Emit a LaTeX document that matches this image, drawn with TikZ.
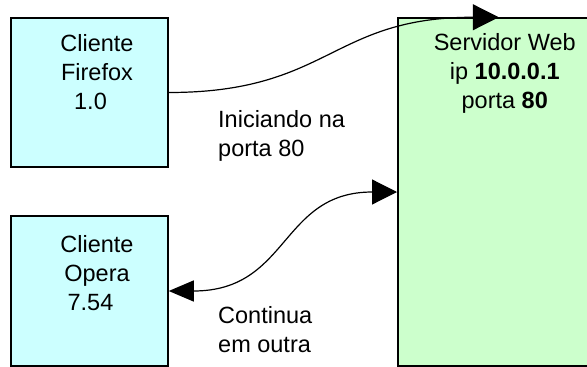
\documentclass[tikz,border=0pt]{standalone}
\usepackage{fontspec}
\setmainfont{Liberation Sans}
\usetikzlibrary{arrows.meta,positioning}
\definecolor{cyanpale}{HTML}{CCFFFF}
\definecolor{greenpale}{HTML}{CCFFCC}
\tikzset{cliente/.style={draw=black,fill=cyanpale,line width=1.5pt,
  minimum width=157pt,minimum height=149pt,inner sep=0pt},
  servidor/.style={draw=black,fill=greenpale,line width=1.5pt,
  minimum width=214pt,minimum height=348pt,inner sep=0pt},
  texto/.style={inner sep=0pt,align=center,font=\fontsize{23.5}{29}\selectfont},
  rotulo/.style={inner sep=0pt,align=left,font=\fontsize{23.5}{29}\selectfont},
  conexao/.style={line width=1.2pt,-{Triangle[length=26pt,width=26pt]}},
  retorno/.style={line width=1.2pt,{Triangle[length=25pt,width=21pt]}-{Triangle[length=25pt,width=25pt]}}}

\begin{document}
\begin{tikzpicture}[x=1pt,y=-1pt]
\useasboundingbox (0,0) rectangle (587,367);
\clip (0,0) rectangle (587,367);
\node[cliente] (firefox) at (89.5,92.5) {};
\node[cliente,minimum height=150pt,below=47.5pt of firefox] (opera) {};
\node[servidor,anchor=north west] (servidor) at (397,17.25) {};
\node[texto,below=16.75pt of firefox.north,xshift=7.5pt] (txtfirefox) {Cliente\\Firefox\\1.0\hspace*{13pt}};
\node[texto,below=19.75pt of opera.north,xshift=7.5pt] (txtopera) {Cliente\\Opera\\7.54\hspace*{13pt}};
\node[texto,below=16.25pt of servidor.north] (txtservidor) {Servidor Web\\ip \textbf{10.0.0.1}\\porta \textbf{80}};
\node[rotulo,anchor=north west] (iniciando) at (218,110) {Iniciando na\\porta 80};
\node[rotulo,anchor=north west] (continua) at (218,306.5) {Continua\\em outra};
\draw[conexao] (firefox.east) .. controls +(161,0) and +(-168,0) .. ([xshift=-6pt]servidor.north);
\draw[retorno] (opera.east) .. controls +(121,0) and +(-117,0) .. (servidor.west);
\end{tikzpicture}
\end{document}
